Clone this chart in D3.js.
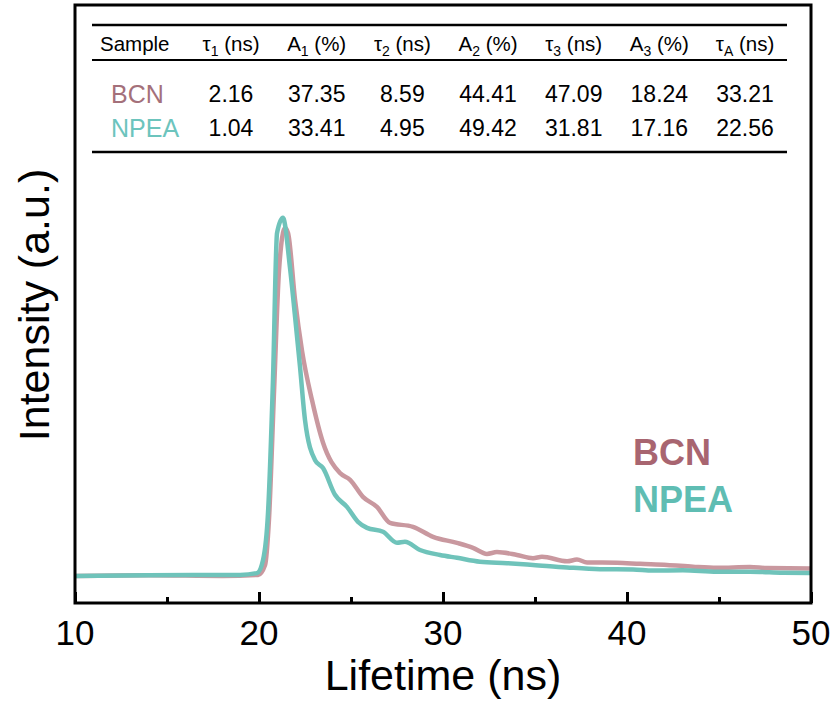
<!DOCTYPE html>
<html>
<head>
<meta charset="utf-8">
<script src="https://cdn.jsdelivr.net/npm/d3@7"></script>
<style>
  body { margin: 0; background: #fff; }
  svg { display: block; font-family: "Liberation Sans", Arial, sans-serif; }
</style>
</head>
<body>
<div class="lifetimeChart"></div>
<script>
// decay curves
const bcnTime = [10, 14, 18, 19.95, 20.33, 20.54, 20.82, 21.09, 21.41, 21.58, 21.96, 22.34, 22.88, 23.48, 24.4, 24.95, 25.65, 26.41, 27.12, 28.37, 29.46, 30.76, 31.63, 32.39, 32.93, 34.02, 34.89, 35.38, 36.74, 37.28, 37.83, 39.46, 40.71, 42.17, 43.59, 44.89, 46.68, 47.61, 49.95]
const bcnIntensity = [0, 0.002, 0, 0.003, 0.031, 0.157, 0.522, 0.86, 0.978, 0.963, 0.775, 0.632, 0.494, 0.374, 0.289, 0.27, 0.222, 0.194, 0.149, 0.138, 0.11, 0.093, 0.079, 0.062, 0.067, 0.059, 0.05, 0.054, 0.041, 0.046, 0.038, 0.037, 0.034, 0.031, 0.026, 0.023, 0.025, 0.022, 0.021]

const npeaTime = [10, 14, 18.97, 19.89, 20.22, 20.49, 20.76, 20.98, 21.3, 21.68, 21.96, 22.23, 22.5, 23.04, 23.48, 24.13, 24.78, 25.38, 25.87, 26.74, 27.5, 27.93, 28.75, 29.84, 30.76, 32.01, 33.48, 34.89, 36.74, 38.53, 40.33, 41.41, 43.04, 44.89, 46.68, 48.48, 49.95]
const npeaIntensity = [0, 0.002, 0.003, 0.008, 0.045, 0.177, 0.551, 0.963, 1.006, 0.868, 0.728, 0.587, 0.438, 0.326, 0.303, 0.228, 0.194, 0.152, 0.135, 0.124, 0.093, 0.096, 0.073, 0.059, 0.051, 0.04, 0.036, 0.031, 0.024, 0.019, 0.018, 0.015, 0.016, 0.012, 0.012, 0.009, 0.008]

const xTicks = [10, 20, 30, 40, 50]
const xMinorTicks = [15, 25, 35, 45]

// fit table
const headerSymbols = ["τ", "A", "τ", "A", "τ", "A", "τ"]
const headerSubs = ["1", "1", "2", "2", "3", "3", "A"]
const headerUnits = ["(ns)", "(%)", "(ns)", "(%)", "(ns)", "(%)", "(ns)"]
const sampleNames = ["BCN", "NPEA"]
const bcnFit = [2.16, 37.35, 8.59, 44.41, 47.09, 18.24, 33.21]
const npeaFit = [1.04, 33.41, 4.95, 49.42, 31.81, 17.16, 22.56]

function lifetimeChart() {
  const width = 837
  const height = 706
  const left = 75, right = 811, top = 5, bottom = 603

  const lineColor = { BCN: "#c9989f", NPEA: "#6fc3ba" }
  const labelColor = { BCN: "#a86570", NPEA: "#5fbdb3" }
  const rowColor = { BCN: "#a4707a", NPEA: "#6cc4bd" }

  const svg = d3.select(".lifetimeChart").append("svg")
    .attr("width", width)
    .attr("height", height)

  const x = d3.scaleLinear().domain([10, 50]).range([left, right])
  const y = d3.scaleLinear().domain([-0.076, 1.604]).range([bottom, top])

  const line = d3.line()
    .x(function(d) { return x(d[0]) })
    .y(function(d) { return y(d[1]) })
    .curve(d3.curveMonotoneX)

  const series = [
    { name: "BCN", pts: d3.zip(bcnTime, bcnIntensity) },
    { name: "NPEA", pts: d3.zip(npeaTime, npeaIntensity) }
  ]

  svg.append("clipPath").attr("id", "plotClip")
    .append("rect")
    .attr("x", left).attr("y", top)
    .attr("width", right - left).attr("height", bottom - top)

  svg.append("g")
    .attr("clip-path", "url(#plotClip)")
    .selectAll("path")
    .data(series)
    .enter()
    .append("path")
    .attr("d", function(d) { return line(d.pts) })
    .attr("fill", "none")
    .attr("stroke", function(d) { return lineColor[d.name] })
    .attr("stroke-width", 4.5)
    .attr("stroke-linejoin", "round")
    .attr("stroke-linecap", "round")

  // frame
  svg.append("rect")
    .attr("x", left).attr("y", top)
    .attr("width", right - left).attr("height", bottom - top)
    .attr("fill", "none")
    .attr("stroke", "#000")
    .attr("stroke-width", 3)

  // x axis, ticks pointing inward
  const xAxis = svg.append("g")
    .attr("transform", "translate(0," + bottom + ")")
    .call(d3.axisTop(x).tickValues(xTicks).tickSize(11).tickFormat(""))
  xAxis.select(".domain").remove()
  xAxis.selectAll("line").attr("stroke-width", 3)

  const xMinor = svg.append("g")
    .attr("transform", "translate(0," + bottom + ")")
    .call(d3.axisTop(x).tickValues(xMinorTicks).tickSize(6).tickFormat(""))
  xMinor.select(".domain").remove()
  xMinor.selectAll("line").attr("stroke-width", 3)

  svg.append("g").selectAll("text")
    .data(xTicks)
    .enter()
    .append("text")
    .attr("x", function(d) { return x(d) })
    .attr("y", 645)
    .style("text-anchor", "middle")
    .style("font-size", "35px")
    .attr("fill", "#000")
    .text(function(d) { return d })

  svg.append("text")
    .attr("x", (left + right) / 2)
    .attr("y", 690)
    .style("text-anchor", "middle")
    .style("font-size", "43px")
    .attr("fill", "#000")
    .text("Lifetime (ns)")

  svg.append("text")
    .attr("transform", "translate(" + 49 + "," + 305 + ") rotate(-90)")
    .style("text-anchor", "middle")
    .style("font-size", "43px")
    .attr("fill", "#000")
    .text("Intensity (a.u.)")

  // Legends
  svg.selectAll(".legend")
    .data(sampleNames)
    .enter()
    .append("text")
    .attr("class", "legend")
    .attr("x", 633)
    .attr("y", function(d, i) { return 465 + i * 47 })
    .style("font-size", "36px")
    .style("font-weight", "bold")
    .attr("fill", function(d) { return labelColor[d] })
    .text(function(d) { return d })

  // table
  const col = d3.scalePoint().domain(d3.range(headerSymbols.length)).range([231, 745])
  const table = svg.append("g")

  table.selectAll(".rule")
    .data([25, 60, 152])
    .enter()
    .append("line")
    .attr("x1", 92).attr("x2", 787)
    .attr("y1", function(d) { return d })
    .attr("y2", function(d) { return d })
    .attr("stroke", "#000")
    .attr("stroke-width", function(d, i) { return i == 1 ? 2 : 2.5 })

  table.append("text")
    .attr("x", 100).attr("y", 51)
    .style("font-size", "20.5px")
    .attr("fill", "#000")
    .text("Sample")

  const head = table.selectAll(".head")
    .data(headerSymbols)
    .enter()
    .append("text")
    .attr("class", "head")
    .attr("x", function(d, i) { return col(i) })
    .attr("y", 51)
    .style("text-anchor", "middle")
    .style("font-size", "20.5px")
    .attr("fill", "#000")
  head.append("tspan").text(function(d) { return d })
  head.append("tspan")
    .attr("dy", 5)
    .style("font-size", "14px")
    .text(function(d, i) { return headerSubs[i] })
  head.append("tspan")
    .attr("dy", -5)
    .text(function(d, i) { return " " + headerUnits[i] })

  const rows = [bcnFit, npeaFit]
  rows.forEach(function(vals, r) {
    const rowY = 102 + r * 34
    table.append("text")
      .attr("x", 111).attr("y", rowY + 1)
      .style("font-size", "25px")
      .attr("fill", rowColor[sampleNames[r]])
      .text(sampleNames[r])

    table.selectAll(".val" + r)
      .data(vals)
      .enter()
      .append("text")
      .attr("x", function(d, i) { return col(i) })
      .attr("y", rowY)
      .style("text-anchor", "middle")
      .style("font-size", "23px")
      .attr("fill", "#000")
      .text(function(d) { return d.toFixed(2) })
  })
}

lifetimeChart()
</script>
</body>
</html>
